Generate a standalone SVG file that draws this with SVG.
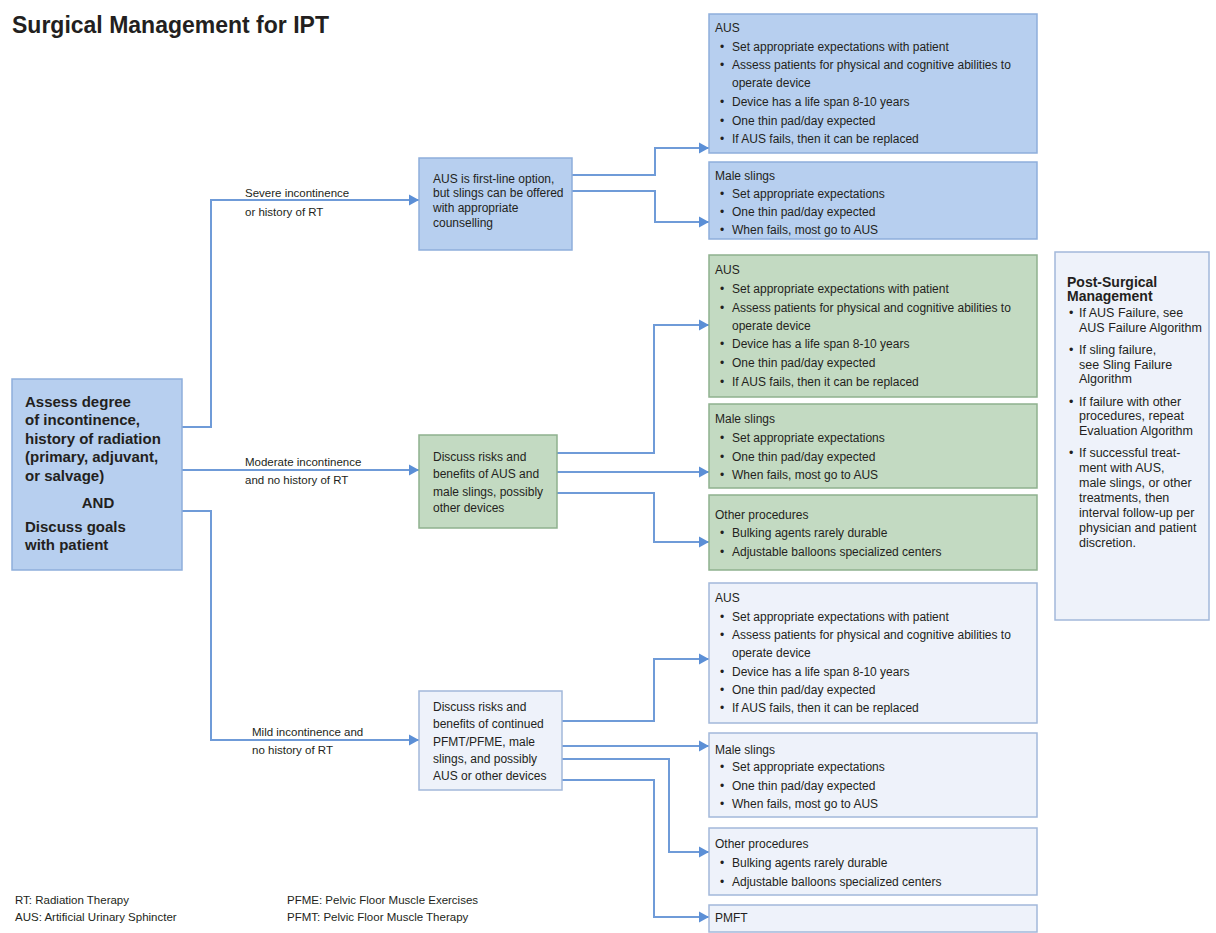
<svg xmlns="http://www.w3.org/2000/svg" width="1216" height="933" viewBox="0 0 1216 933">
<style>
text{font-family:"Liberation Sans",Arial,sans-serif;fill:#231f20}
.title{font-size:23px;font-weight:bold}
.lead{font-size:15px;font-weight:bold}
.lbl{font-size:11.5px}
.mid{font-size:12px}
.bx{font-size:12px}
.ps{font-size:12.5px}
.pst{font-size:14px;font-weight:bold}
.fn{font-size:11.5px}
.blue{fill:#b7cfef;stroke:#8eaedb;stroke-width:1.5}
.green{fill:#c3dac2;stroke:#8fb18e;stroke-width:1.5}
.light{fill:#eef2fa;stroke:#a2b8da;stroke-width:1.5}
.conn path{fill:none;stroke:#6f9bd8;stroke-width:2}
</style>
<defs>
<marker id="arr" markerUnits="userSpaceOnUse" markerWidth="11" markerHeight="12" refX="10" refY="6" orient="auto">
<path d="M0,0.5 L10,6 L0,11.5 z" fill="#5b8fd6"/>
</marker>
</defs>
<rect width="1216" height="933" fill="#ffffff"/>
<text class="title" x="12" y="33">Surgical Management for IPT</text>

<g class="conn" id="connectors">
<path d="M182 427 H211 V200 H419" marker-end="url(#arr)"/>
<path d="M182 470 H419" marker-end="url(#arr)"/>
<path d="M182 511 H211 V740 H419" marker-end="url(#arr)"/>
<path d="M572 175 H655 V148 H709" marker-end="url(#arr)"/>
<path d="M572 191 H655 V222 H709" marker-end="url(#arr)"/>
<path d="M557 453 H654 V325 H709" marker-end="url(#arr)"/>
<path d="M557 472 H709" marker-end="url(#arr)"/>
<path d="M557 493 H654 V542 H709" marker-end="url(#arr)"/>
<path d="M562 721 H654 V659 H709" marker-end="url(#arr)"/>
<path d="M562 746 H709" marker-end="url(#arr)"/>
<path d="M562 759 H669 V852 H709" marker-end="url(#arr)"/>
<path d="M562 780 H654 V917 H709" marker-end="url(#arr)"/>
</g>

<g id="labels">
<text class="lbl" x="245" y="197">Severe incontinence</text>
<text class="lbl" x="245" y="216">or history of RT</text>
<text class="lbl" x="245" y="466">Moderate incontinence</text>
<text class="lbl" x="245" y="484">and no history of RT</text>
<text class="lbl" x="252" y="736">Mild incontinence and</text>
<text class="lbl" x="252" y="754">no history of RT</text>
</g>

<g id="assess">
<rect class="blue" x="12" y="379" width="170" height="191"/>
<text class="lead" x="25" y="407">Assess degree</text>
<text class="lead" x="25" y="425">of incontinence,</text>
<text class="lead" x="25" y="444">history of radiation</text>
<text class="lead" x="25" y="462">(primary, adjuvant,</text>
<text class="lead" x="25" y="481">or salvage)</text>
<text class="lead" x="98" y="508" text-anchor="middle">AND</text>
<text class="lead" x="25" y="532">Discuss goals</text>
<text class="lead" x="25" y="550">with patient</text>
</g>

<g id="severe">
<rect class="blue" x="419" y="158" width="153" height="92"/>
<text class="mid" x="433" y="183">AUS is first-line option,</text>
<text class="mid" x="433" y="197">but slings can be offered</text>
<text class="mid" x="433" y="212">with appropriate</text>
<text class="mid" x="433" y="227">counselling</text>
</g>

<g id="moderate">
<rect class="green" x="419" y="435" width="138" height="93"/>
<text class="mid" x="433" y="461">Discuss risks and</text>
<text class="mid" x="433" y="478">benefits of AUS and</text>
<text class="mid" x="433" y="496">male slings, possibly</text>
<text class="mid" x="433" y="512">other devices</text>
</g>

<g id="mild">
<rect class="light" x="419" y="691" width="143" height="99"/>
<text class="mid" x="433" y="711">Discuss risks and</text>
<text class="mid" x="433" y="728">benefits of continued</text>
<text class="mid" x="433" y="746">PFMT/PFME, male</text>
<text class="mid" x="433" y="763">slings, and possibly</text>
<text class="mid" x="433" y="780">AUS or other devices</text>
</g>

<g id="aus-severe">
<rect class="blue" x="709" y="14" width="328" height="139"/>
<text class="bx" x="715" y="32">AUS</text>
<text class="bx" x="720" y="51">•</text><text class="bx" x="732" y="51">Set appropriate expectations with patient</text>
<text class="bx" x="720" y="69">•</text><text class="bx" x="732" y="69">Assess patients for physical and cognitive abilities to</text>
<text class="bx" x="732" y="87">operate device</text>
<text class="bx" x="720" y="106">•</text><text class="bx" x="732" y="106">Device has a life span 8-10 years</text>
<text class="bx" x="720" y="125">•</text><text class="bx" x="732" y="125">One thin pad/day expected</text>
<text class="bx" x="720" y="143">•</text><text class="bx" x="732" y="143">If AUS fails, then it can be replaced</text>
</g>

<g id="slings-severe">
<rect class="blue" x="709" y="162" width="328" height="77"/>
<text class="bx" x="715" y="180">Male slings</text>
<text class="bx" x="720" y="198">•</text><text class="bx" x="732" y="198">Set appropriate expectations</text>
<text class="bx" x="720" y="216">•</text><text class="bx" x="732" y="216">One thin pad/day expected</text>
<text class="bx" x="720" y="234">•</text><text class="bx" x="732" y="234">When fails, most go to AUS</text>
</g>

<g id="aus-moderate">
<rect class="green" x="709" y="255" width="328" height="142"/>
<text class="bx" x="715" y="274">AUS</text>
<text class="bx" x="720" y="293">•</text><text class="bx" x="732" y="293">Set appropriate expectations with patient</text>
<text class="bx" x="720" y="312">•</text><text class="bx" x="732" y="312">Assess patients for physical and cognitive abilities to</text>
<text class="bx" x="732" y="330">operate device</text>
<text class="bx" x="720" y="348">•</text><text class="bx" x="732" y="348">Device has a life span 8-10 years</text>
<text class="bx" x="720" y="367">•</text><text class="bx" x="732" y="367">One thin pad/day expected</text>
<text class="bx" x="720" y="386">•</text><text class="bx" x="732" y="386">If AUS fails, then it can be replaced</text>
</g>

<g id="slings-moderate">
<rect class="green" x="709" y="404" width="328" height="84"/>
<text class="bx" x="715" y="423">Male slings</text>
<text class="bx" x="720" y="442">•</text><text class="bx" x="732" y="442">Set appropriate expectations</text>
<text class="bx" x="720" y="461">•</text><text class="bx" x="732" y="461">One thin pad/day expected</text>
<text class="bx" x="720" y="479">•</text><text class="bx" x="732" y="479">When fails, most go to AUS</text>
</g>

<g id="other-moderate">
<rect class="green" x="709" y="495" width="328" height="75"/>
<text class="bx" x="715" y="519">Other procedures</text>
<text class="bx" x="720" y="537">•</text><text class="bx" x="732" y="537">Bulking agents rarely durable</text>
<text class="bx" x="720" y="556">•</text><text class="bx" x="732" y="556">Adjustable balloons specialized centers</text>
</g>

<g id="aus-mild">
<rect class="light" x="709" y="583" width="328" height="140"/>
<text class="bx" x="715" y="602">AUS</text>
<text class="bx" x="720" y="621">•</text><text class="bx" x="732" y="621">Set appropriate expectations with patient</text>
<text class="bx" x="720" y="639">•</text><text class="bx" x="732" y="639">Assess patients for physical and cognitive abilities to</text>
<text class="bx" x="732" y="657">operate device</text>
<text class="bx" x="720" y="676">•</text><text class="bx" x="732" y="676">Device has a life span 8-10 years</text>
<text class="bx" x="720" y="694">•</text><text class="bx" x="732" y="694">One thin pad/day expected</text>
<text class="bx" x="720" y="712">•</text><text class="bx" x="732" y="712">If AUS fails, then it can be replaced</text>
</g>

<g id="slings-mild">
<rect class="light" x="709" y="733" width="328" height="84"/>
<text class="bx" x="715" y="754">Male slings</text>
<text class="bx" x="720" y="771">•</text><text class="bx" x="732" y="771">Set appropriate expectations</text>
<text class="bx" x="720" y="790">•</text><text class="bx" x="732" y="790">One thin pad/day expected</text>
<text class="bx" x="720" y="808">•</text><text class="bx" x="732" y="808">When fails, most go to AUS</text>
</g>

<g id="other-mild">
<rect class="light" x="709" y="828" width="328" height="67"/>
<text class="bx" x="715" y="848">Other procedures</text>
<text class="bx" x="720" y="867">•</text><text class="bx" x="732" y="867">Bulking agents rarely durable</text>
<text class="bx" x="720" y="886">•</text><text class="bx" x="732" y="886">Adjustable balloons specialized centers</text>
</g>

<g id="pmft">
<rect class="light" x="709" y="905" width="328" height="27"/>
<text class="bx" x="715" y="922">PMFT</text>
</g>

<g id="post-surgical">
<rect class="light" x="1055" y="252" width="154" height="368"/>
<text class="pst" x="1067" y="287">Post-Surgical</text>
<text class="pst" x="1067" y="301">Management</text>
<text class="ps" x="1069" y="317">•</text><text class="ps" x="1079" y="317">If AUS Failure, see</text>
<text class="ps" x="1079" y="332">AUS Failure Algorithm</text>
<text class="ps" x="1069" y="354">•</text><text class="ps" x="1079" y="354">If sling failure,</text>
<text class="ps" x="1079" y="369">see Sling Failure</text>
<text class="ps" x="1079" y="383">Algorithm</text>
<text class="ps" x="1069" y="406">•</text><text class="ps" x="1079" y="406">If failure with other</text>
<text class="ps" x="1079" y="420">procedures, repeat</text>
<text class="ps" x="1079" y="435">Evaluation Algorithm</text>
<text class="ps" x="1069" y="457">•</text><text class="ps" x="1079" y="457">If successful treat-</text>
<text class="ps" x="1079" y="472">ment with AUS,</text>
<text class="ps" x="1079" y="487">male slings, or other</text>
<text class="ps" x="1079" y="502">treatments, then</text>
<text class="ps" x="1079" y="517">interval follow-up per</text>
<text class="ps" x="1079" y="532">physician and patient</text>
<text class="ps" x="1079" y="547">discretion.</text>
</g>

<g id="footnotes">
<text class="fn" x="15" y="904">RT: Radiation Therapy</text>
<text class="fn" x="15" y="921">AUS: Artificial Urinary Sphincter</text>
<text class="fn" x="287" y="904">PFME: Pelvic Floor Muscle Exercises</text>
<text class="fn" x="287" y="921">PFMT: Pelvic Floor Muscle Therapy</text>
</g>
</svg>
